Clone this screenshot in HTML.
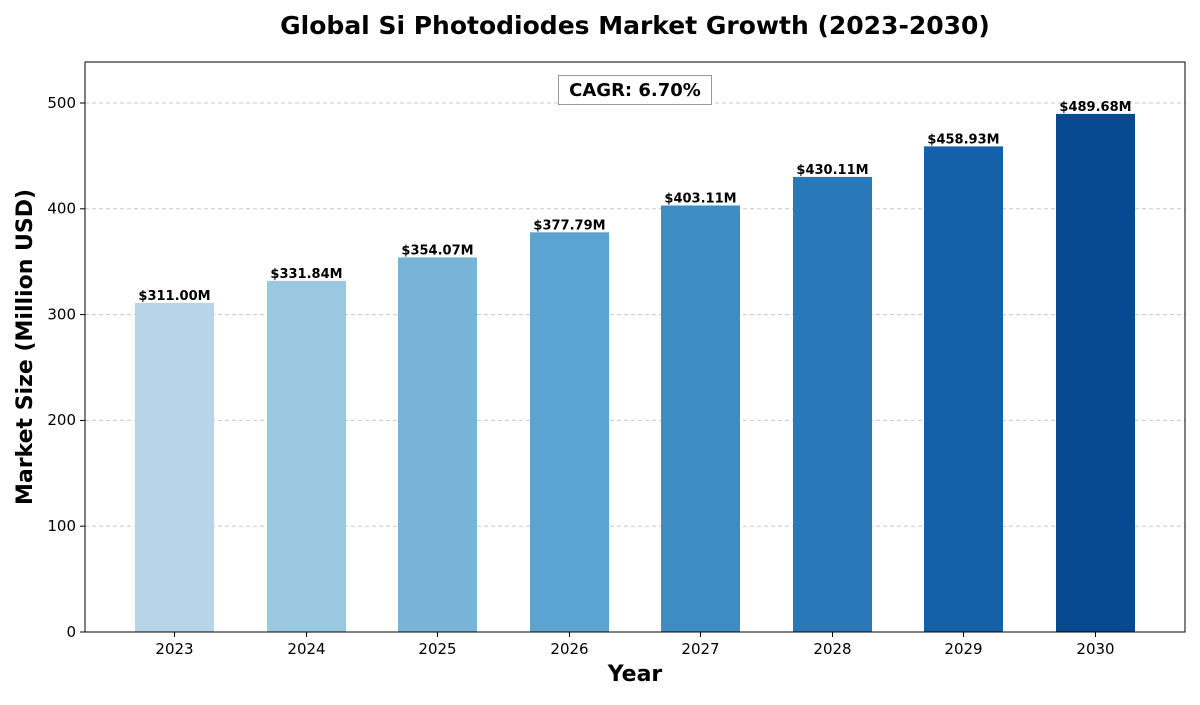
<!DOCTYPE html>
<html><head><style>body{margin:0;background:#fff}</style></head><body>
<svg width="1200" height="700" xmlns="http://www.w3.org/2000/svg" font-family="'DejaVu Sans','Liberation Sans',sans-serif">
<rect width="1200" height="700" fill="#fff"/>
<text x="635" y="34" text-anchor="middle" font-size="25" font-weight="bold">Global Si Photodiodes Market Growth (2023-2030)</text>
<g stroke="#c8c8c8" stroke-dasharray="4,3" stroke-width="1">
<line x1="85" x2="1185" y1="526.2" y2="526.2"/>
<line x1="85" x2="1185" y1="420.4" y2="420.4"/>
<line x1="85" x2="1185" y1="314.6" y2="314.6"/>
<line x1="85" x2="1185" y1="208.8" y2="208.8"/>
<line x1="85" x2="1185" y1="103" y2="103"/>
</g>
<g>
<rect x="135" y="302.9" width="79" height="329.1" fill="#b8d4e9"/>
<rect x="267" y="280.9" width="79" height="351.1" fill="#9ac8e0"/>
<rect x="398" y="257.4" width="79" height="374.6" fill="#77b4d8"/>
<rect x="530" y="232.3" width="79" height="399.7" fill="#5ba3d0"/>
<rect x="661" y="205.5" width="79" height="426.5" fill="#3d8dc4"/>
<rect x="793" y="176.9" width="79" height="455.1" fill="#2979b9"/>
<rect x="924" y="146.4" width="79" height="485.6" fill="#1461a9"/>
<rect x="1056" y="113.9" width="79" height="518.1" fill="#084a91"/>
</g>
<g font-size="13" font-weight="bold" text-anchor="middle">
<text x="174.5" y="300">$311.00M</text>
<text x="306.5" y="278">$331.84M</text>
<text x="437.5" y="254.5">$354.07M</text>
<text x="569.5" y="229.5">$377.79M</text>
<text x="700.5" y="202.5">$403.11M</text>
<text x="832.5" y="174">$430.11M</text>
<text x="963.5" y="143.5">$458.93M</text>
<text x="1095.5" y="111">$489.68M</text>
</g>
<rect x="85" y="62" width="1100" height="570" fill="none" stroke="#000" stroke-width="1"/>
<g stroke="#000">
<line x1="80" x2="85" y1="632" y2="632"/><line x1="80" x2="85" y1="526.2" y2="526.2"/><line x1="80" x2="85" y1="420.4" y2="420.4"/><line x1="80" x2="85" y1="314.6" y2="314.6"/><line x1="80" x2="85" y1="208.8" y2="208.8"/><line x1="80" x2="85" y1="103" y2="103"/>
<line x1="174.5" x2="174.5" y1="632" y2="637"/><line x1="306.5" x2="306.5" y1="632" y2="637"/><line x1="437.5" x2="437.5" y1="632" y2="637"/><line x1="569.5" x2="569.5" y1="632" y2="637"/><line x1="700.5" x2="700.5" y1="632" y2="637"/><line x1="832.5" x2="832.5" y1="632" y2="637"/><line x1="963.5" x2="963.5" y1="632" y2="637"/><line x1="1095.5" x2="1095.5" y1="632" y2="637"/>
</g>
<g font-size="15" text-anchor="end">
<text x="76" y="637">0</text><text x="76" y="531">100</text><text x="76" y="425">200</text><text x="76" y="319.5">300</text><text x="76" y="213.5">400</text><text x="76" y="108">500</text>
</g>
<g font-size="15" text-anchor="middle">
<text x="174.5" y="654">2023</text><text x="306.5" y="654">2024</text><text x="437.5" y="654">2025</text><text x="569.5" y="654">2026</text><text x="700.5" y="654">2027</text><text x="832.5" y="654">2028</text><text x="963.5" y="654">2029</text><text x="1095.5" y="654">2030</text>
</g>
<text x="635" y="681" text-anchor="middle" font-size="22" font-weight="bold">Year</text>
<text transform="translate(32,347) rotate(-90)" text-anchor="middle" font-size="22" font-weight="bold">Market Size (Million USD)</text>
<rect x="558.5" y="75.5" width="153" height="29" fill="#fff" stroke="#999"/>
<text x="635" y="96" text-anchor="middle" font-size="18" font-weight="bold">CAGR: 6.70%</text>
</svg>
</body></html>
